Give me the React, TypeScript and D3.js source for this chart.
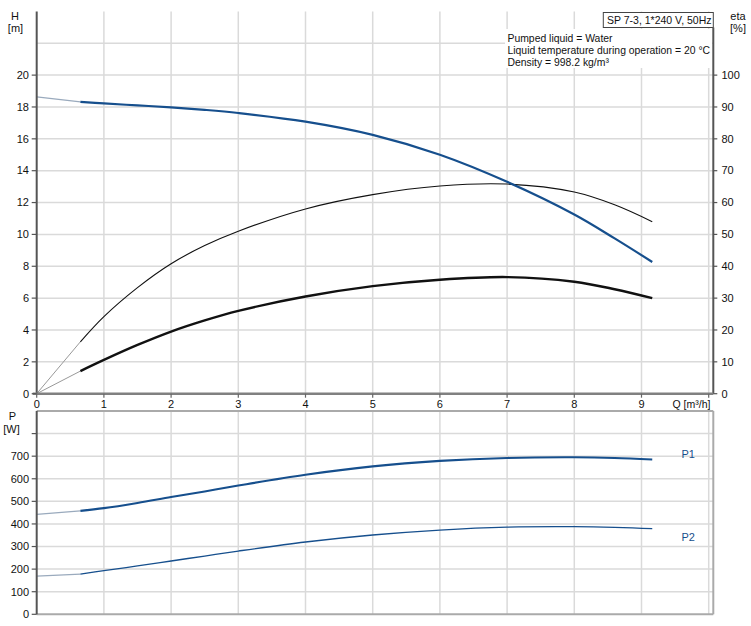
import React from "react";
import * as d3 from "d3";

// ---------- data ----------
const flowQ = [0.65, 1, 1.5, 2, 2.5, 3, 4, 5, 6, 7, 8, 8.6, 9.16];
const headH = [18.32, 18.22, 18.1, 17.98, 17.82, 17.62, 17.08, 16.25, 15.0, 13.3, 11.25, 9.75, 8.27];
const etaPump = [16.3, 24.2, 33.3, 40.8, 46.5, 51, 58, 62.5, 65.2, 65.8, 63.3, 59.3, 54];
const etaTotal = [7.1, 10.6, 15.3, 19.5, 23, 26, 30.5, 33.75, 35.75, 36.6, 35.15, 32.8, 30];
const powerP1 = [458, 470, 493, 519, 544, 570, 618, 655, 679, 692, 695, 692, 685];
const powerP2 = [178, 193, 214, 236, 258, 280, 320, 351, 373, 386, 388, 385, 379];
// values at Q = 0 (extrapolated part of each curve)
const atZero = { head: 18.64, etaPump: 0, etaTotal: 0, p1: 442, p2: 169 };

const qTicks = [0, 1, 2, 3, 4, 5, 6, 7, 8, 9];
const qGrid = [1, 2, 3, 4, 5, 6, 7, 8, 9, 10];
const hTicks = [0, 2, 4, 6, 8, 10, 12, 14, 16, 18, 20];
const hGrid = [2, 4, 6, 8, 10, 12, 14, 16, 18, 20, 22];
const etaTicks = [0, 10, 20, 30, 40, 50, 60, 70, 80, 90, 100];
const pTicks = [0, 100, 200, 300, 400, 500, 600, 700];
const pGrid = [100, 200, 300, 400, 500, 600, 700, 800];

const titleText = "SP 7-3, 1*240 V, 50Hz";
const infoLines = [
  "Pumped liquid = Water",
  "Liquid temperature during operation = 20 °C",
  "Density = 998.2 kg/m³",
];

// ---------- layout ----------
const W = 751;
const H = 626;
const x0 = 36.7;
const xRight = 713.3;
const x = d3.scaleLinear().domain([0, 10]).range([x0, x0 + 672]);
const yH = d3.scaleLinear().domain([0, 24]).range([393.7, 11.4]);
const yEta = d3.scaleLinear().domain([0, 120]).range([393.7, 11.4]);
const yP = d3.scaleLinear().domain([0, 900]).range([614.3, 411]);

const FONT = "'Liberation Sans', Arial, sans-serif";
const BLUE = "#164f8d";
const GRID = "#dadada";

function curvePath(ys: number[], yScale: (v: number) => number) {
  const pts: [number, number][] = flowQ.map((q, i) => [x(q), yScale(ys[i])]);
  return d3.line().curve(d3.curveCatmullRom.alpha(0.5))(pts) || "";
}
function extPath(v0: number, v1: number, yScale: (v: number) => number) {
  return d3.line()([
    [x(0), yScale(v0)],
    [x(flowQ[0]), yScale(v1)],
  ]) || "";
}

export default function App() {
  const topY = yH(24);
  return (
    <svg width={W} height={H} style={{ position: "absolute", left: 0, top: 0, background: "#fff" }} fontFamily={FONT}>
      <rect width={W} height={H} fill="#fff" />
      {/* ---------- top chart grid ---------- */}
      {qGrid.map((q) => (
        <line key={"vg" + q} x1={x(q)} x2={x(q)} y1={topY} y2={yH(0)} stroke={GRID} strokeWidth={1.5} />
      ))}
      {hGrid.map((h) => (
        <line key={"hg" + h} x1={x0} x2={xRight} y1={yH(h)} y2={yH(h)} stroke={GRID} strokeWidth={1.5} />
      ))}

      {/* info text background */}
      <rect x={505} y={29} width={207} height={39} fill="#fff" />
      {infoLines.map((t, i) => (
        <text key={t} x={507.5} y={41.5 + i * 12.2} fontSize={10.4} fill="#111">
          {t}
        </text>
      ))}
      <rect x={603.3} y={12.5} width={110} height={15} fill="#fff" stroke="#444" strokeWidth={1} />
      <text x={607} y={24} fontSize={10.5} fill="#111">
        {titleText}
      </text>

      {/* curves top */}
      <path d={extPath(atZero.etaPump, etaPump[0], yEta)} fill="none" stroke="#999" strokeWidth={1} />
      <path d={extPath(atZero.etaTotal, etaTotal[0], yEta)} fill="none" stroke="#999" strokeWidth={1} />
      <path d={extPath(atZero.head, headH[0], yH)} fill="none" stroke="#9aaabd" strokeWidth={1.2} />
      <path d={curvePath(etaPump, yEta)} fill="none" stroke="#111" strokeWidth={1.1} />
      <path d={curvePath(etaTotal, yEta)} fill="none" stroke="#111" strokeWidth={2.4} />
      <path d={curvePath(headH, yH)} fill="none" stroke={BLUE} strokeWidth={2.2} />

      {/* axes top */}
      <line x1={x0} x2={x0} y1={topY} y2={yH(0)} stroke="#555" strokeWidth={2} />
      <line x1={xRight} x2={xRight} y1={27.5} y2={yH(0)} stroke="#555" strokeWidth={2} />
      <line x1={x0 - 4} x2={xRight} y1={yH(0)} y2={yH(0)} stroke="#808080" strokeWidth={2.5} />
      {hTicks.map((h) => (
        <g key={"ht" + h}>
          <line x1={x0 - 5} x2={x0} y1={yH(h)} y2={yH(h)} stroke="#555" strokeWidth={1.2} />
          <text x={29} y={yH(h) + 3.8} fontSize={11} textAnchor="end" fill="#111">
            {h}
          </text>
        </g>
      ))}
      {etaTicks.map((e) => (
        <g key={"et" + e}>
          <line x1={xRight} x2={xRight + 4} y1={yEta(e)} y2={yEta(e)} stroke="#555" strokeWidth={1.2} />
          <text x={721.5} y={yEta(e) + 3.8} fontSize={11} fill="#111">
            {e}
          </text>
        </g>
      ))}
      {qGrid.concat([0]).map((q) => (
        <line key={"qt" + q} x1={x(q)} x2={x(q)} y1={yH(0)} y2={yH(0) + 4} stroke="#666" strokeWidth={1.2} />
      ))}
      {qTicks.map((q) => (
        <text key={"ql" + q} x={x(q)} y={407.5} fontSize={11} textAnchor="middle" fill="#111">
          {q}
        </text>
      ))}
      <text x={672.5} y={407.5} fontSize={10.5} fill="#111">
        Q [m³/h]
      </text>
      <text x={15} y={19.5} fontSize={11} textAnchor="middle" fill="#111">
        H
      </text>
      <text x={15.5} y={32} fontSize={11} textAnchor="middle" fill="#111">
        [m]
      </text>
      <text x={738} y={19.5} fontSize={11} textAnchor="middle" fill="#111">
        eta
      </text>
      <text x={738} y={32} fontSize={11} textAnchor="middle" fill="#111">
        [%]
      </text>

      {/* ---------- bottom chart ---------- */}
      {qGrid.map((q) => (
        <line key={"bvg" + q} x1={x(q)} x2={x(q)} y1={yP(900)} y2={yP(0)} stroke={GRID} strokeWidth={1.5} />
      ))}
      {pGrid.map((p) => (
        <line key={"bhg" + p} x1={x0} x2={xRight} y1={yP(p)} y2={yP(p)} stroke={GRID} strokeWidth={1.5} />
      ))}
      <path d={extPath(atZero.p1, powerP1[0], yP)} fill="none" stroke="#9aaabd" strokeWidth={1.3} />
      <path d={extPath(atZero.p2, powerP2[0], yP)} fill="none" stroke="#9aaabd" strokeWidth={1.1} />
      <path d={curvePath(powerP1, yP)} fill="none" stroke={BLUE} strokeWidth={2.1} />
      <path d={curvePath(powerP2, yP)} fill="none" stroke={BLUE} strokeWidth={1.3} />

      <line x1={x0} x2={xRight} y1={yP(900)} y2={yP(900)} stroke="#aaa" strokeWidth={2} />
      <line x1={x0} x2={xRight} y1={yP(0)} y2={yP(0)} stroke="#aaa" strokeWidth={2} />
      <line x1={xRight} x2={xRight} y1={yP(900)} y2={yP(0)} stroke="#aaa" strokeWidth={2} />
      <line x1={x0} x2={x0} y1={yP(900)} y2={yP(0)} stroke="#555" strokeWidth={2} />
      {pTicks.concat([800]).map((p) => (
        <line key={"pt" + p} x1={x0 - 5} x2={x0} y1={yP(p)} y2={yP(p)} stroke="#555" strokeWidth={1.2} />
      ))}
      {pTicks.map((p) => (
        <text key={"pl" + p} x={29} y={yP(p) + 3.8} fontSize={11} textAnchor="end" fill="#111">
          {p}
        </text>
      ))}
      <text x={12.5} y={419.5} fontSize={11} textAnchor="middle" fill="#111">
        P
      </text>
      <text x={11.5} y={433} fontSize={11} textAnchor="middle" fill="#111">
        [W]
      </text>
      <text x={681.5} y={457.5} fontSize={11} fill={BLUE}>
        P1
      </text>
      <text x={681.5} y={540.5} fontSize={11} fill={BLUE}>
        P2
      </text>
    </svg>
  );
}
